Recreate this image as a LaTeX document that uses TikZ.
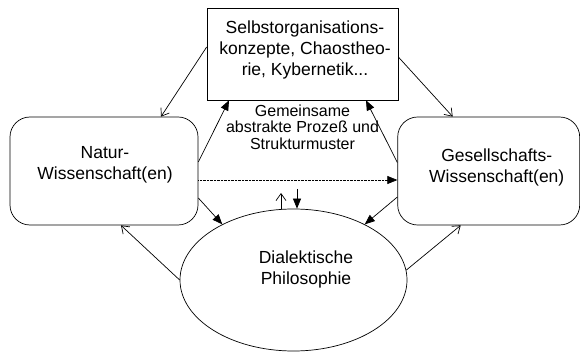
\documentclass[tikz,border=0pt]{standalone}
\usepackage{fontspec}
\setmainfont{Liberation Sans}
\usetikzlibrary{arrows.meta,positioning,shapes.geometric}
\tikzset{%
   box/.style={
      draw, rectangle,
      minimum width=191pt,
      minimum height=92pt
   },
   rbox/.style={
      draw, rectangle, rounded corners=20pt,
      minimum width=188pt,
      minimum height=108pt
   },
   oval/.style={
      draw, ellipse,
      minimum width=227pt,
      minimum height=142pt
   },
   txt/.style={
      align=center, inner sep=0pt,
      font=\fontsize{17.5pt}{21pt}\selectfont
   },
   smalltxt/.style={
      align=center, inner sep=0pt,
      font=\fontsize{16pt}{16.5pt}\selectfont
   },
   fil/.style={
      -{Triangle[length=10pt,width=8pt]}
   },
   opn/.style={
      -{Straight Barb[length=7pt,width=10pt]}
   },
}
\begin{document}
\begin{tikzpicture}[x=1pt, y=-1pt, line width=0.7pt, inner sep=0pt]
      \useasboundingbox (0,0) rectangle (580,352);
      \node[box] (top) at (302.5,54) {};
      \node[rbox] (nat) at (104,171) {};
      \node[rbox, minimum width=182pt, right=199pt of nat] (ges) {};
      \node[oval] (phil) at (293.5,280) {};
      \node[txt] (toptxt) at ([xshift=2.5pt,yshift=4pt]top.center)
         {Selbstorganisations-\\konzepte, Chaostheo-\\rie, Kybernetik...};
      \node[txt] (nattxt) at ([xshift=1pt,yshift=6pt]nat.center)
         {Natur-\\Wissenschaft(en)};
      \node[txt] (gestxt) at ([xshift=8pt,yshift=4pt]ges.center)
         {Gesellschafts-\\Wissenschaft(en)};
      \node[txt] (philtxt) at ([xshift=12.5pt,yshift=11pt]phil.center)
         {Dialektische\\Philosophie};
      \node[smalltxt, below=4pt of top.south] (muster)
         {Gemeinsame\\abstrakte Prozeß und\\Strukturmuster};
      \coordinate (up) at (281,193);
      \coordinate (down) at (297,189);
      \path ([yshift=7pt]top.west) edge[opn] ([xshift=57pt]nat.north);
      \path ([yshift=-3pt]top.east) edge[opn] ([xshift=-36pt]ges.north);
      \path ([yshift=9pt]nat.east) edge[fil] ([xshift=-73.5pt]top.south);
      \path ([yshift=8.5pt]ges.west) edge[fil] ([xshift=63.5pt]top.south);
      \path ([yshift=-9pt]nat.east) edge[fil, line width=0.6pt,
         dash pattern=on 0.7pt off 0.7pt] ([yshift=-9pt]ges.west);
      \path ([yshift=-27pt]nat.east) edge[fil] (phil.142);
      \path ([yshift=-26pt]ges.west) edge[fil] (phil.38);
      \path (phil.west) edge[opn] ([xshift=17pt]nat.south);
      \path (phil.5) edge[opn] ([xshift=-28pt]ges.south);
      \path ([xshift=-12.5pt]phil.north) edge[opn] (up);
      \path (down) edge[fil] ([xshift=3.5pt]phil.north);
   \end{tikzpicture}
\end{document}
